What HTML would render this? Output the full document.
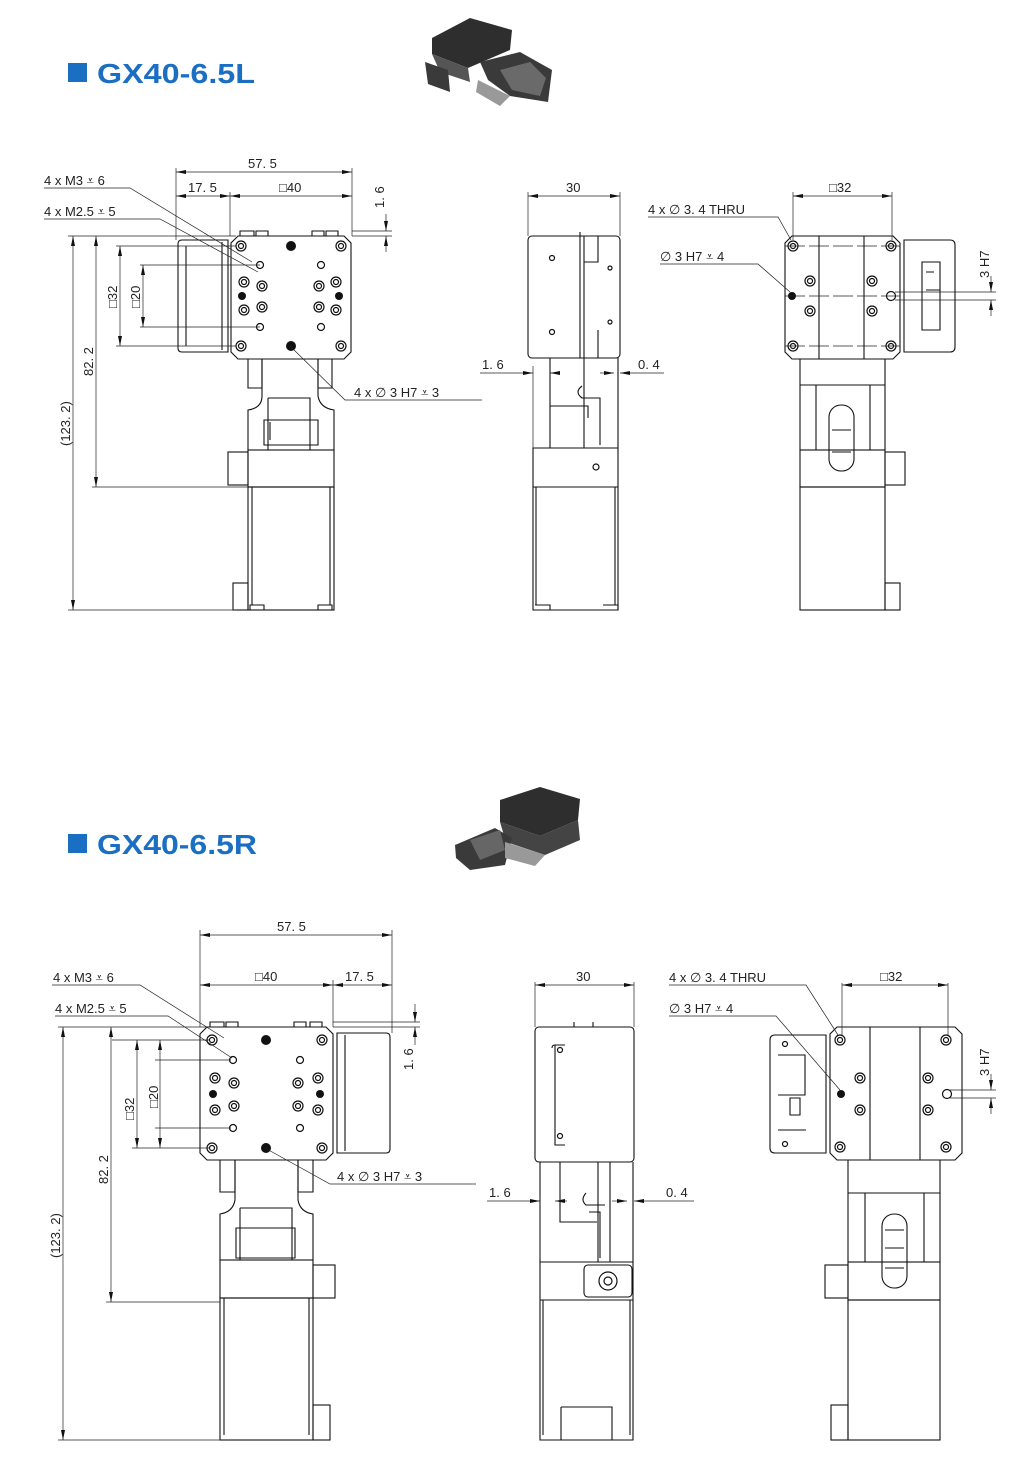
<!DOCTYPE html>
<html><head><meta charset="utf-8"><style>
html,body{margin:0;padding:0;background:#fff;}
svg{display:block}
text{font-family:"Liberation Sans",sans-serif;font-size:13px;fill:#222}
.t{font-family:"Liberation Sans",sans-serif;font-size:28px;font-weight:bold;fill:#1b6fc2}
.l{fill:none;stroke:#111;stroke-width:1.1}
.d{fill:none;stroke:#222;stroke-width:0.7}
.h{fill:#fff;stroke:#111;stroke-width:1.2}
</style></head><body>
<svg width="1019" height="1468" viewBox="0 0 1019 1468" xmlns="http://www.w3.org/2000/svg">
<defs>
<marker id="a" markerWidth="10" markerHeight="6" refX="10" refY="3" orient="auto-start-reverse" markerUnits="userSpaceOnUse"><path d="M0,1 L10,3 L0,5z" fill="#111"/></marker>
<g id="holes">
<circle class="h" cx="0" cy="0" r="5"/><circle class="h" cx="0" cy="0" r="2.5"/>
</g>
</defs>

<!-- ===== TITLES ===== -->
<rect x="68" y="63" width="19" height="19" fill="#1b6fc2"/>
<text class="t" x="97" y="83" textLength="158" lengthAdjust="spacingAndGlyphs">GX40-6.5L</text>
<rect x="68" y="834" width="19" height="19" fill="#1b6fc2"/>
<text class="t" x="97" y="854" textLength="160" lengthAdjust="spacingAndGlyphs">GX40-6.5R</text>

<!-- product photos -->
<g>
<polygon points="432,38 470,18 512,30 510,50 468,68 432,54" fill="#2e2e2e"/>
<polygon points="432,54 468,68 470,82 440,72" fill="#555"/>
<polygon points="425,62 448,70 450,92 428,84" fill="#3a3a3a"/>
<polygon points="480,62 520,52 552,70 548,102 510,96 488,80" fill="#3a3a3a"/>
<polygon points="500,70 530,62 546,78 540,96 512,90" fill="#6a6a6a"/>
<polygon points="478,80 510,96 500,106 476,92" fill="#999"/>
</g>
<g>
<polygon points="500,800 540,787 580,799 578,820 540,836 500,822" fill="#2e2e2e"/>
<polygon points="500,822 540,836 578,820 580,840 545,855 506,842" fill="#444"/>
<polygon points="455,845 495,828 512,838 505,865 470,870 456,858" fill="#3a3a3a"/>
<polygon points="470,840 500,830 505,850 480,860" fill="#666"/>
<polygon points="505,842 545,855 535,866 505,858" fill="#999"/>
</g>

<!-- ===== TOP VIEW 1 (L) ===== -->
<g>
<path class="l" d="M238,236 H344 L351,243 V352 L344,359 H238 L231,352 V243 Z"/>
<path class="l" d="M240,236 v-5 h14 v5 M256,236 v-5 h12 v5 M312,236 v-5 h12 v5 M326,236 v-5 h12 v5"/>
<path class="l" d="M182,240 H228 V352 H182 Q178,352 178,348 V244 Q178,240 182,240Z"/>
<path class="l" d="M222,242 V350 M186,246 V346"/>
<path class="l" d="M248,359 V388 H262 V359 M318,359 V388 H332 V359"/>
<path class="l" d="M262,359 H318 V396 Q320,408 334,410 V450 H248 V410 Q262,408 262,396 Z"/>
<path class="l" d="M268,398 H310 V450 M268,398 V450"/>
<path class="l" d="M264,420 H318 V445 H264Z M270,422 v18"/>
<rect class="l" x="248" y="450" width="86" height="37"/>
<rect class="l" x="228" y="452" width="20" height="33"/>
<rect class="l" x="248" y="487" width="86" height="123"/>
<path class="l" d="M252,487 V605 M330,487 V605"/>
<rect class="l" x="233" y="583" width="15" height="27"/>
<path class="l" d="M250,605 h14 v5 h-14z M318,605 h14 v5 h-14z"/>
<use href="#holes" x="241" y="246"/><use href="#holes" x="341" y="246"/>
<use href="#holes" x="241" y="346"/><use href="#holes" x="341" y="346"/>
<circle cx="291" cy="246" r="5" fill="#111"/><circle cx="291" cy="346" r="5" fill="#111"/>
<circle class="h" cx="260" cy="265" r="3.5"/><circle class="h" cx="321" cy="265" r="3.5"/>
<circle class="h" cx="260" cy="327" r="3.5"/><circle class="h" cx="321" cy="327" r="3.5"/>
<use href="#holes" x="244" y="282"/><use href="#holes" x="262" y="286"/>
<use href="#holes" x="244" y="310"/><use href="#holes" x="262" y="307"/>
<use href="#holes" x="336" y="282"/><use href="#holes" x="319" y="286"/>
<use href="#holes" x="336" y="310"/><use href="#holes" x="319" y="307"/>
<circle cx="242" cy="296" r="4" fill="#111"/><circle cx="339" cy="296" r="4" fill="#111"/>
</g>
<!-- dims view 1 -->
<g>
<path class="d" d="M176,168 V240 M352,168 V236 M230,192 V236"/>
<line class="d" x1="176" y1="172" x2="352" y2="172" marker-start="url(#a)" marker-end="url(#a)"/>
<text x="248" y="168">57. 5</text>
<line class="d" x1="176" y1="196" x2="230" y2="196" marker-start="url(#a)" marker-end="url(#a)"/>
<text x="188" y="192">17. 5</text>
<line class="d" x1="230" y1="196" x2="352" y2="196" marker-start="url(#a)" marker-end="url(#a)"/>
<text x="279" y="192">□40</text>
<path class="d" d="M352,231 H392 M352,236 H392"/>
<line class="d" x1="386" y1="214" x2="386" y2="231" marker-end="url(#a)"/>
<line class="d" x1="386" y1="252" x2="386" y2="236" marker-end="url(#a)"/>
<text transform="translate(384,208) rotate(-90)" x="0" y="0">1. 6</text>
<path class="d" d="M44,188 H130 L252,262 M44,219 H160 L258,272 M290,346 L345,400 H482"/>
<text x="44" y="185">4 x M3 ⩡ 6</text>
<text x="44" y="216">4 x M2.5 ⩡ 5</text>
<text x="354" y="397">4 x ∅ 3 H7 ⩡ 3</text>
<path class="d" d="M68,236 H236 M92,487 H248 M68,610 H236 M116,246 H236 M140,265 H260 M116,346 H236 M140,327 H260"/>
<line class="d" x1="73" y1="236" x2="73" y2="610" marker-start="url(#a)" marker-end="url(#a)"/>
<line class="d" x1="96" y1="236" x2="96" y2="487" marker-start="url(#a)" marker-end="url(#a)"/>
<line class="d" x1="120" y1="246" x2="120" y2="346" marker-start="url(#a)" marker-end="url(#a)"/>
<line class="d" x1="143" y1="265" x2="143" y2="327" marker-start="url(#a)" marker-end="url(#a)"/>
<text transform="translate(70,446) rotate(-90)">(123. 2)</text>
<text transform="translate(93,376) rotate(-90)">82. 2</text>
<text transform="translate(117,308) rotate(-90)">□32</text>
<text transform="translate(140,308) rotate(-90)">□20</text>
</g>

<!-- ===== TOP VIEW 2 (side) ===== -->
<g>
<rect class="l" x="528" y="236" width="92" height="122" rx="4"/>
<path class="l" d="M580,232 V358 M584,236 V358 M598,236 V262 H584 M598,330 V358"/>
<circle class="h" cx="552" cy="258" r="2.5"/><circle class="h" cx="552" cy="332" r="2.5"/>
<circle class="h" cx="610" cy="268" r="2"/><circle class="h" cx="610" cy="322" r="2"/>
<path class="l" d="M550,358 V448 H533 V610 H618 V358 M584,358 V448 M533,448 H618 M533,487 H618 M550,406 H584"/>
<path class="l" d="M582,386 Q574,392 582,398 H600 V445 M578,406 H588 V418"/>
<circle class="h" cx="596" cy="467" r="3"/>
<path class="l" d="M536,487 V605 M615,487 V605 M535,605 h15 v5 M603,605 h15 v5"/>
<path class="d" d="M528,192 V236 M620,192 V236"/>
<line class="d" x1="528" y1="196" x2="620" y2="196" marker-start="url(#a)" marker-end="url(#a)"/>
<text x="566" y="192">30</text>
<line class="d" x1="480" y1="373" x2="533" y2="373" marker-end="url(#a)"/>
<line class="d" x1="560" y1="373" x2="550" y2="373" marker-end="url(#a)"/>
<text x="482" y="369">1. 6</text>
<line class="d" x1="600" y1="373" x2="614" y2="373" marker-end="url(#a)"/>
<line class="d" x1="664" y1="373" x2="620" y2="373" marker-end="url(#a)"/>
<text x="638" y="369">0. 4</text>
<path class="d" d="M533,366 V448"/>
</g>

<!-- ===== TOP VIEW 3 ===== -->
<g>
<path class="l" d="M792,236 H893 L900,243 V352 L893,359 H792 L785,352 V243 Z"/>
<path class="l" d="M819,236 V359 M864,236 V359"/>
<path class="l" d="M904,240 H950 Q955,240 955,245 V347 Q955,352 950,352 H904Z"/>
<path class="l" d="M922,262 H940 V330 H922 Z M926,272 H934 M926,290 H940"/>
<path class="l" d="M800,359 V385 H885 V359 M800,385 V450 M885,385 V450 M816,385 V450 M870,385 V450"/>
<rect class="l" x="829" y="405" width="25" height="66" rx="12"/>
<path class="l" d="M832,430 H851 M832,452 H851"/>
<rect class="l" x="885" y="452" width="20" height="33"/>
<rect class="l" x="800" y="450" width="85" height="37"/>
<rect class="l" x="800" y="487" width="85" height="123"/>
<rect class="l" x="885" y="583" width="15" height="27"/>
<use href="#holes" x="793" y="246"/><use href="#holes" x="891" y="246"/>
<use href="#holes" x="793" y="346"/><use href="#holes" x="891" y="346"/>
<use href="#holes" x="810" y="281"/><use href="#holes" x="872" y="281"/>
<use href="#holes" x="810" y="311"/><use href="#holes" x="872" y="311"/>
<circle cx="792" cy="296" r="4" fill="#111"/><circle class="h" cx="891" cy="296" r="4.5"/>
<path class="d" d="M785,296 H900 M785,246 H900 M785,346 H900" stroke-dasharray="20 4"/>
<path class="d" d="M793,192 V240 M892,192 V240"/>
<line class="d" x1="793" y1="196" x2="892" y2="196" marker-start="url(#a)" marker-end="url(#a)"/>
<text x="829" y="192">□32</text>
<path class="d" d="M648,217 H778 L791,240 M660,264 H758 L790,292"/>
<text x="648" y="214">4 x ∅ 3. 4 THRU</text>
<text x="660" y="261">∅ 3 H7 ⩡ 4</text>
<path class="d" d="M895,292 H996 M895,300 H996"/>
<line class="d" x1="991" y1="276" x2="991" y2="292" marker-end="url(#a)"/>
<line class="d" x1="991" y1="316" x2="991" y2="300" marker-end="url(#a)"/>
<text transform="translate(989,278) rotate(-90)">3 H7</text>
</g>

<!-- ===== BOTTOM VIEW 1 (R) ===== -->
<g>
<path class="l" d="M207,1027 H326 L333,1034 V1153 L326,1160 H207 L200,1153 V1034 Z"/>
<path class="l" d="M210,1027 v-5 h14 v5 M226,1027 v-5 h12 v5 M294,1027 v-5 h12 v5 M310,1027 v-5 h12 v5"/>
<path class="l" d="M337,1033 H386 Q390,1033 390,1037 V1149 Q390,1153 386,1153 H337Z M345,1035 V1151"/>
<path class="l" d="M220,1160 V1192 H235 V1160 M298,1160 V1192 H313 V1160"/>
<path class="l" d="M235,1160 H298 V1200 Q300,1212 313,1214 V1260 H220 V1214 Q233,1212 235,1200 Z"/>
<path class="l" d="M240,1208 H292 V1260 M240,1208 V1260 M236,1228 H295 V1258 H236Z"/>
<rect class="l" x="220" y="1260" width="93" height="38"/>
<rect class="l" x="313" y="1265" width="22" height="33"/>
<rect class="l" x="220" y="1298" width="93" height="142"/>
<path class="l" d="M224,1298 V1435 M309,1298 V1435"/>
<rect class="l" x="313" y="1405" width="17" height="35"/>
<use href="#holes" x="212" y="1040"/><use href="#holes" x="322" y="1040"/>
<use href="#holes" x="212" y="1148"/><use href="#holes" x="322" y="1148"/>
<circle cx="266" cy="1040" r="5" fill="#111"/><circle cx="266" cy="1148" r="5" fill="#111"/>
<circle class="h" cx="233" cy="1060" r="3.5"/><circle class="h" cx="300" cy="1060" r="3.5"/>
<circle class="h" cx="233" cy="1128" r="3.5"/><circle class="h" cx="300" cy="1128" r="3.5"/>
<use href="#holes" x="215" y="1078"/><use href="#holes" x="234" y="1083"/>
<use href="#holes" x="215" y="1110"/><use href="#holes" x="234" y="1106"/>
<use href="#holes" x="318" y="1078"/><use href="#holes" x="298" y="1083"/>
<use href="#holes" x="318" y="1110"/><use href="#holes" x="298" y="1106"/>
<circle cx="213" cy="1094" r="4" fill="#111"/><circle cx="320" cy="1094" r="4" fill="#111"/>
<!-- dims -->
<path class="d" d="M200,930 V1027 M392,930 V1033 M333,980 V1027"/>
<line class="d" x1="200" y1="935" x2="392" y2="935" marker-start="url(#a)" marker-end="url(#a)"/>
<text x="277" y="931">57. 5</text>
<line class="d" x1="200" y1="985" x2="333" y2="985" marker-start="url(#a)" marker-end="url(#a)"/>
<text x="255" y="981">□40</text>
<line class="d" x1="333" y1="985" x2="392" y2="985" marker-start="url(#a)" marker-end="url(#a)"/>
<text x="345" y="981">17. 5</text>
<path class="d" d="M333,1022 H420 M333,1027 H420"/>
<line class="d" x1="415" y1="1004" x2="415" y2="1022" marker-end="url(#a)"/>
<line class="d" x1="415" y1="1045" x2="415" y2="1027" marker-end="url(#a)"/>
<text transform="translate(413,1070) rotate(-90)">1. 6</text>
<path class="d" d="M52,985 H140 L224,1038 M55,1016 H168 L232,1058 M265,1148 L330,1184 H476"/>
<text x="53" y="982">4 x M3 ⩡ 6</text>
<text x="55" y="1013">4 x M2.5 ⩡ 5</text>
<text x="337" y="1181">4 x ∅ 3 H7 ⩡ 3</text>
<path class="d" d="M58,1027 H206 M106,1027 H206 M106,1302 H220 M58,1440 H220 M112,1040 H210 M132,1148 H210 M155,1060 H231 M155,1128 H231"/>
<line class="d" x1="63" y1="1027" x2="63" y2="1440" marker-start="url(#a)" marker-end="url(#a)"/>
<line class="d" x1="111" y1="1027" x2="111" y2="1302" marker-start="url(#a)" marker-end="url(#a)"/>
<line class="d" x1="137" y1="1040" x2="137" y2="1148" marker-start="url(#a)" marker-end="url(#a)"/>
<line class="d" x1="160" y1="1040" x2="160" y2="1148" marker-start="url(#a)" marker-end="url(#a)"/>
<text transform="translate(60,1258) rotate(-90)">(123. 2)</text>
<text transform="translate(108,1184) rotate(-90)">82. 2</text>
<text transform="translate(134,1120) rotate(-90)">□32</text>
<text transform="translate(158,1108) rotate(-90)">□20</text>
</g>

<!-- ===== BOTTOM VIEW 2 (side) ===== -->
<g>
<rect class="l" x="535" y="1027" width="99" height="135" rx="4"/>
<path class="l" d="M574,1022 V1027 M593,1022 V1027 M555,1045 H565 M555,1045 V1145 H565 M555,1045 Q552,1045 552,1048"/>
<circle class="h" cx="560" cy="1050" r="2.5"/><circle class="h" cx="560" cy="1136" r="2.5"/>
<path class="l" d="M540,1300 V1162 M560,1162 V1222 H597 M598,1162 V1262 M610,1162 V1262 M633,1162 V1440 H540 V1300 M540,1262 H633 M540,1300 H633"/>
<path class="l" d="M586,1193 Q580,1200 586,1205 H605 M589,1212 H600 V1258"/>
<rect class="l" x="584" y="1265" width="48" height="32" rx="4"/>
<circle class="h" cx="608" cy="1281" r="9"/><circle class="h" cx="608" cy="1281" r="4"/>
<path class="l" d="M561,1407 H612 V1440 M561,1407 V1440 M543,1300 V1435 M630,1300 V1435"/>
<path class="d" d="M535,982 V1027 M634,982 V1027"/>
<line class="d" x1="535" y1="985" x2="634" y2="985" marker-start="url(#a)" marker-end="url(#a)"/>
<text x="576" y="981">30</text>
<line class="d" x1="487" y1="1201" x2="540" y2="1201" marker-end="url(#a)"/>
<line class="d" x1="567" y1="1201" x2="555" y2="1201" marker-end="url(#a)"/>
<text x="489" y="1197">1. 6</text>
<line class="d" x1="612" y1="1201" x2="627" y2="1201" marker-end="url(#a)"/>
<line class="d" x1="694" y1="1201" x2="634" y2="1201" marker-end="url(#a)"/>
<text x="666" y="1197">0. 4</text>
<path class="d" d="M540,1195 V1258"/>
</g>

<!-- ===== BOTTOM VIEW 3 ===== -->
<g>
<path class="l" d="M837,1027 H955 L962,1034 V1153 L955,1160 H837 L830,1153 V1034 Z"/>
<path class="l" d="M870,1027 V1160 M920,1027 V1160"/>
<path class="l" d="M826,1035 H775 Q770,1035 770,1040 V1148 Q770,1153 775,1153 H826Z"/>
<path class="l" d="M778,1055 H805 V1095 H778 M790,1098 H800 V1115 H790Z M778,1130 H806"/>
<circle class="h" cx="785" cy="1044" r="2.5"/><circle class="h" cx="785" cy="1144" r="2.5"/>
<path class="l" d="M848,1160 V1193 H940 V1160 M865,1193 V1262 M924,1193 V1262 M848,1193 V1262 M940,1193 V1262"/>
<rect class="l" x="882" y="1214" width="25" height="74" rx="12"/>
<path class="l" d="M885,1230 H904 M885,1248 H904 M885,1268 H904"/>
<rect class="l" x="848" y="1262" width="92" height="38"/>
<rect class="l" x="825" y="1265" width="23" height="33"/>
<rect class="l" x="848" y="1300" width="92" height="140"/>
<rect class="l" x="831" y="1405" width="17" height="35"/>
<use href="#holes" x="840" y="1040"/><use href="#holes" x="946" y="1040"/>
<use href="#holes" x="840" y="1147"/><use href="#holes" x="946" y="1147"/>
<use href="#holes" x="860" y="1078"/><use href="#holes" x="928" y="1078"/>
<use href="#holes" x="860" y="1110"/><use href="#holes" x="928" y="1110"/>
<circle cx="841" cy="1094" r="4" fill="#111"/><circle class="h" cx="947" cy="1094" r="4.5"/>
<path class="d" d="M842,983 V1035 M948,983 V1035"/>
<line class="d" x1="842" y1="985" x2="948" y2="985" marker-start="url(#a)" marker-end="url(#a)"/>
<text x="880" y="981">□32</text>
<path class="d" d="M669,985 H806 L838,1035 M669,1016 H776 L840,1090"/>
<text x="669" y="982">4 x ∅ 3. 4 THRU</text>
<text x="669" y="1013">∅ 3 H7 ⩡ 4</text>
<path class="d" d="M950,1090 H996 M950,1098 H996"/>
<line class="d" x1="991" y1="1074" x2="991" y2="1090" marker-end="url(#a)"/>
<line class="d" x1="991" y1="1114" x2="991" y2="1098" marker-end="url(#a)"/>
<text transform="translate(989,1076) rotate(-90)">3 H7</text>
</g>
</svg>
</body></html>
